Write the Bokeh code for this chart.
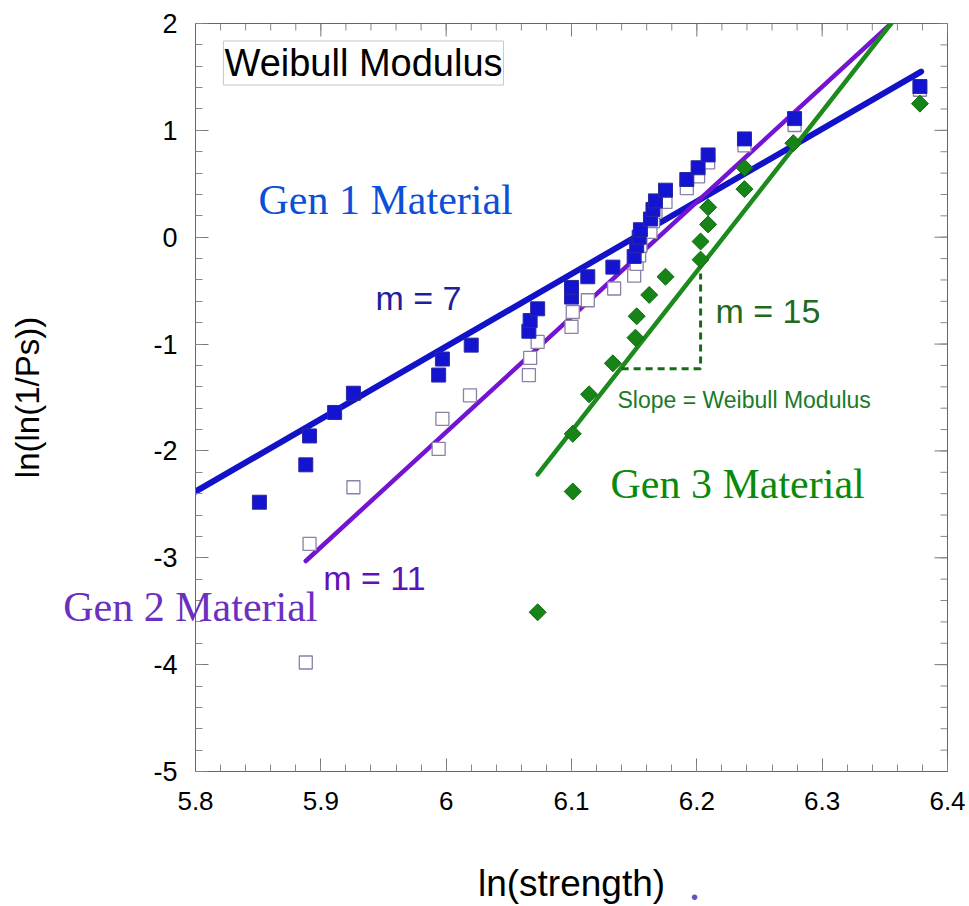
import numpy as np
from bokeh.plotting import figure
from bokeh.models import Label, LinearAxis, FixedTicker, Range1d
from bokeh.embed import file_html
from bokeh.resources import INLINE

# ---------------- data ----------------
gen1_x = [5.851, 5.888, 5.891, 5.911, 5.926, 5.994, 5.997, 6.020, 6.066, 6.067, 6.073,
          6.100, 6.100, 6.113, 6.133, 6.150, 6.152, 6.154, 6.155, 6.163, 6.165, 6.167,
          6.175, 6.192, 6.201, 6.209, 6.238, 6.278, 6.378]
gen1_y = [-2.48, -2.13, -1.86, -1.64, -1.46, -1.29, -1.14, -1.01, -0.88, -0.78, -0.67,
          -0.56, -0.47, -0.37, -0.28, -0.18, -0.08, 0.00, 0.07, 0.17, 0.26, 0.34,
          0.44, 0.54, 0.65, 0.77, 0.92, 1.11, 1.41]

gen2_x = [5.888, 5.891, 5.926, 5.994, 5.997, 6.019, 6.066, 6.067, 6.073, 6.100, 6.101,
          6.113, 6.134, 6.150, 6.152, 6.154, 6.155, 6.163, 6.165, 6.167, 6.175, 6.192,
          6.201, 6.209, 6.238, 6.278, 6.378]
gen2_y = [-3.98, -2.87, -2.34, -1.98, -1.70, -1.48, -1.29, -1.13, -0.98, -0.84, -0.70,
          -0.59, -0.48, -0.36, -0.25, -0.17, -0.08, 0.05, 0.15, 0.24, 0.33, 0.46,
          0.57, 0.70, 0.86, 1.05, 1.38]

gen3_x = [6.073, 6.101, 6.101, 6.114, 6.133, 6.151, 6.152, 6.162, 6.175, 6.203, 6.203,
          6.209, 6.209, 6.238, 6.238, 6.277, 6.378]
gen3_y = [-3.51, -2.38, -1.84, -1.47, -1.18, -0.94, -0.74, -0.54, -0.37, -0.21, -0.04,
          0.12, 0.28, 0.45, 0.65, 0.88, 1.25]

# fitted Weibull lines (end points)
gen1_fit_x = [5.800, 6.379]
gen1_fit_y = [-2.38, 1.55]
gen2_fit_x = [5.888, 6.355]
gen2_fit_y = [-3.03, 2.00]
gen3_fit_x = [6.073, 6.355]
gen3_fit_y = [-2.22, 2.00]

# slope triangle (dashed)
slope_x = [6.140, 6.203, 6.203]
slope_y = [-1.23, -1.23, -0.34]

x_ticks = [5.8, 5.9, 6.0, 6.1, 6.2, 6.3, 6.4]
x_tick_labels = ["5.8", "5.9", "6", "6.1", "6.2", "6.3", "6.4"]
y_ticks = [-5, -4, -3, -2, -1, 0, 1, 2]
y_tick_labels = ["-5", "-4", "-3", "-2", "-1", "0", "1", "2"]

# anchor positions of texts that lie partly or wholly outside the frame
gen2_label_y = -3.46
stray_dot_x = 6.1981

SANS = "Liberation Sans"
SERIF = "Liberation Serif"

p = figure(width=969, height=906, output_backend="svg", toolbar_location=None,
           x_range=Range1d(5.8, 6.4), y_range=Range1d(-5, 2),
           x_axis_location=None, y_axis_location=None,
           min_border_left=195, min_border_right=22, min_border_top=23,
           min_border_bottom=131)
p.grid.visible = False
p.outline_line_color = "#666666"
p.outline_line_width = 1
p.background_fill_color = "white"
p.border_fill_color = "white"

x_minor = [float(v) for v in np.round(np.arange(5.8, 6.4001, 0.02), 3)]
y_minor = [float(v) for v in np.round(np.arange(-5, 2.0001, 0.2), 3)]


def style_axis(ax, ticks, minor, labels, fsize):
    ax.ticker = FixedTicker(ticks=ticks, minor_ticks=minor)
    ax.major_tick_in = 13
    ax.major_tick_out = 0
    ax.minor_tick_in = 7
    ax.minor_tick_out = 0
    ax.major_tick_line_color = "#777777"
    ax.minor_tick_line_color = "#888888"
    ax.axis_line_color = "#666666"
    ax.major_label_overrides = {t: l for t, l in zip(ticks, labels)}
    ax.major_label_text_font = SANS
    ax.major_label_text_font_size = fsize
    ax.major_label_text_color = "black"


def bare_axis(ticks, labels, font, size, color, standoff):
    ax = LinearAxis(ticker=FixedTicker(ticks=ticks, minor_ticks=[]))
    ax.axis_line_color = None
    ax.major_tick_line_color = None
    ax.minor_tick_line_color = None
    ax.major_tick_in = 0
    ax.major_tick_out = 0
    ax.minor_tick_in = 0
    ax.minor_tick_out = 0
    ax.major_label_overrides = {t: l for t, l in zip(ticks, labels)}
    ax.major_label_text_font = font
    ax.major_label_text_font_size = size
    ax.major_label_text_color = color
    ax.major_label_standoff = standoff
    return ax


# ---- bottom: main x axis (ticks + numbers), then an outer axis with the title
xb = LinearAxis()
style_axis(xb, x_ticks, x_minor, x_tick_labels, "26px")
xb.major_label_standoff = 20
p.add_layout(xb, "below")

xt = bare_axis([stray_dot_x], ["\u2022"], SANS, "20px", "#5555bb", 73)
xt.axis_label = "ln(strength)"
xt.axis_label_text_font = SANS
xt.axis_label_text_font_size = "37px"
xt.axis_label_text_font_style = "normal"
xt.axis_label_text_color = "black"
xt.axis_label_standoff = -48
p.add_layout(xt, "below")

# ---- left: main y axis (ticks + numbers), then an outer axis with title + Gen 2 text
yl = LinearAxis()
style_axis(yl, y_ticks, y_minor, y_tick_labels, "27px")
yl.major_label_standoff = 18
p.add_layout(yl, "left")

yt = bare_axis([gen2_label_y], ["Gen 2 Material"], SERIF, "42px", "#6c30c0", -167)
yt.axis_label = "ln(ln(1/Ps))"
yt.axis_label_text_font = SANS
yt.axis_label_text_font_size = "33px"
yt.axis_label_text_font_style = "normal"
yt.axis_label_text_color = "black"
yt.axis_label_standoff = 14
p.add_layout(yt, "left")

# mirrored inward ticks on the top and right frame edges
p.ray(x=x_ticks, y=[2] * len(x_ticks), length=13, angle=-np.pi / 2,
      length_units="screen", line_color="#777777", line_width=1)
p.ray(x=x_minor, y=[2] * len(x_minor), length=7, angle=-np.pi / 2,
      length_units="screen", line_color="#888888", line_width=1)
p.ray(x=[6.4] * len(y_ticks), y=y_ticks, length=13, angle=np.pi,
      length_units="screen", line_color="#777777", line_width=1)
p.ray(x=[6.4] * len(y_minor), y=y_minor, length=7, angle=np.pi,
      length_units="screen", line_color="#888888", line_width=1)

# ---------------- fit lines ----------------
p.line(gen1_fit_x, gen1_fit_y, line_color="#1212c8", line_width=6, line_cap="round")
p.line(gen2_fit_x, gen2_fit_y, line_color="#7414d2", line_width=4.5, line_cap="round")
p.line(gen3_fit_x, gen3_fit_y, line_color="#1c8a1c", line_width=4.5, line_cap="round")

# ---------------- points ----------------
p.scatter(gen2_x, gen2_y, marker="square", size=13, fill_color="white",
          line_color="#8a80a8", line_width=1.3)
p.scatter(gen1_x, gen1_y, marker="square", size=14, fill_color="#1414d0",
          line_color="#2a2aa0", line_width=1)
p.scatter(gen3_x, gen3_y, marker="square", angle=np.pi / 4, size=12,
          fill_color="#168416", line_color="#0f6a0f", line_width=1)

# slope triangle
p.line(slope_x, slope_y, line_color="#166b16", line_width=3, line_dash="7 5")

# ---------------- annotations ----------------
p.add_layout(Label(x=5.8223, y=1.63, text="Weibull Modulus", text_font=SANS,
                   text_font_size="38px", text_color="black", text_baseline="middle",
                   background_fill_color="white", border_line_color="#c8c8c8",
                   border_line_width=1, padding=1))

p.add_layout(Label(x=5.8503, y=0.345, text="Gen 1 Material", text_font=SERIF,
                   text_font_size="42px", text_color="#0d4fd6",
                   text_baseline="alphabetic"))
p.add_layout(Label(x=6.1311, y=-2.31, text="Gen 3 Material", text_font=SERIF,
                   text_font_size="42px", text_color="#0a8a0a",
                   text_baseline="alphabetic"))

p.add_layout(Label(x=5.9436, y=-0.57, text="m = 7", text_font=SANS,
                   text_font_size="34px", text_color="#1f1f9c",
                   text_baseline="alphabetic"))
p.add_layout(Label(x=5.9019, y=-3.186, text="m = 11", text_font=SANS,
                   text_font_size="34px", text_color="#5e12ba",
                   text_baseline="alphabetic"))
p.add_layout(Label(x=6.2149, y=-0.691, text="m = 15", text_font=SANS,
                   text_font_size="34px", text_color="#1e6b1e",
                   text_baseline="alphabetic"))
p.add_layout(Label(x=6.1367, y=-1.527, text="Slope = Weibull Modulus", text_font=SANS,
                   text_font_size="23px", text_color="#1a7a2a",
                   text_baseline="alphabetic"))

open("out.html", "w").write(file_html(p, INLINE))
